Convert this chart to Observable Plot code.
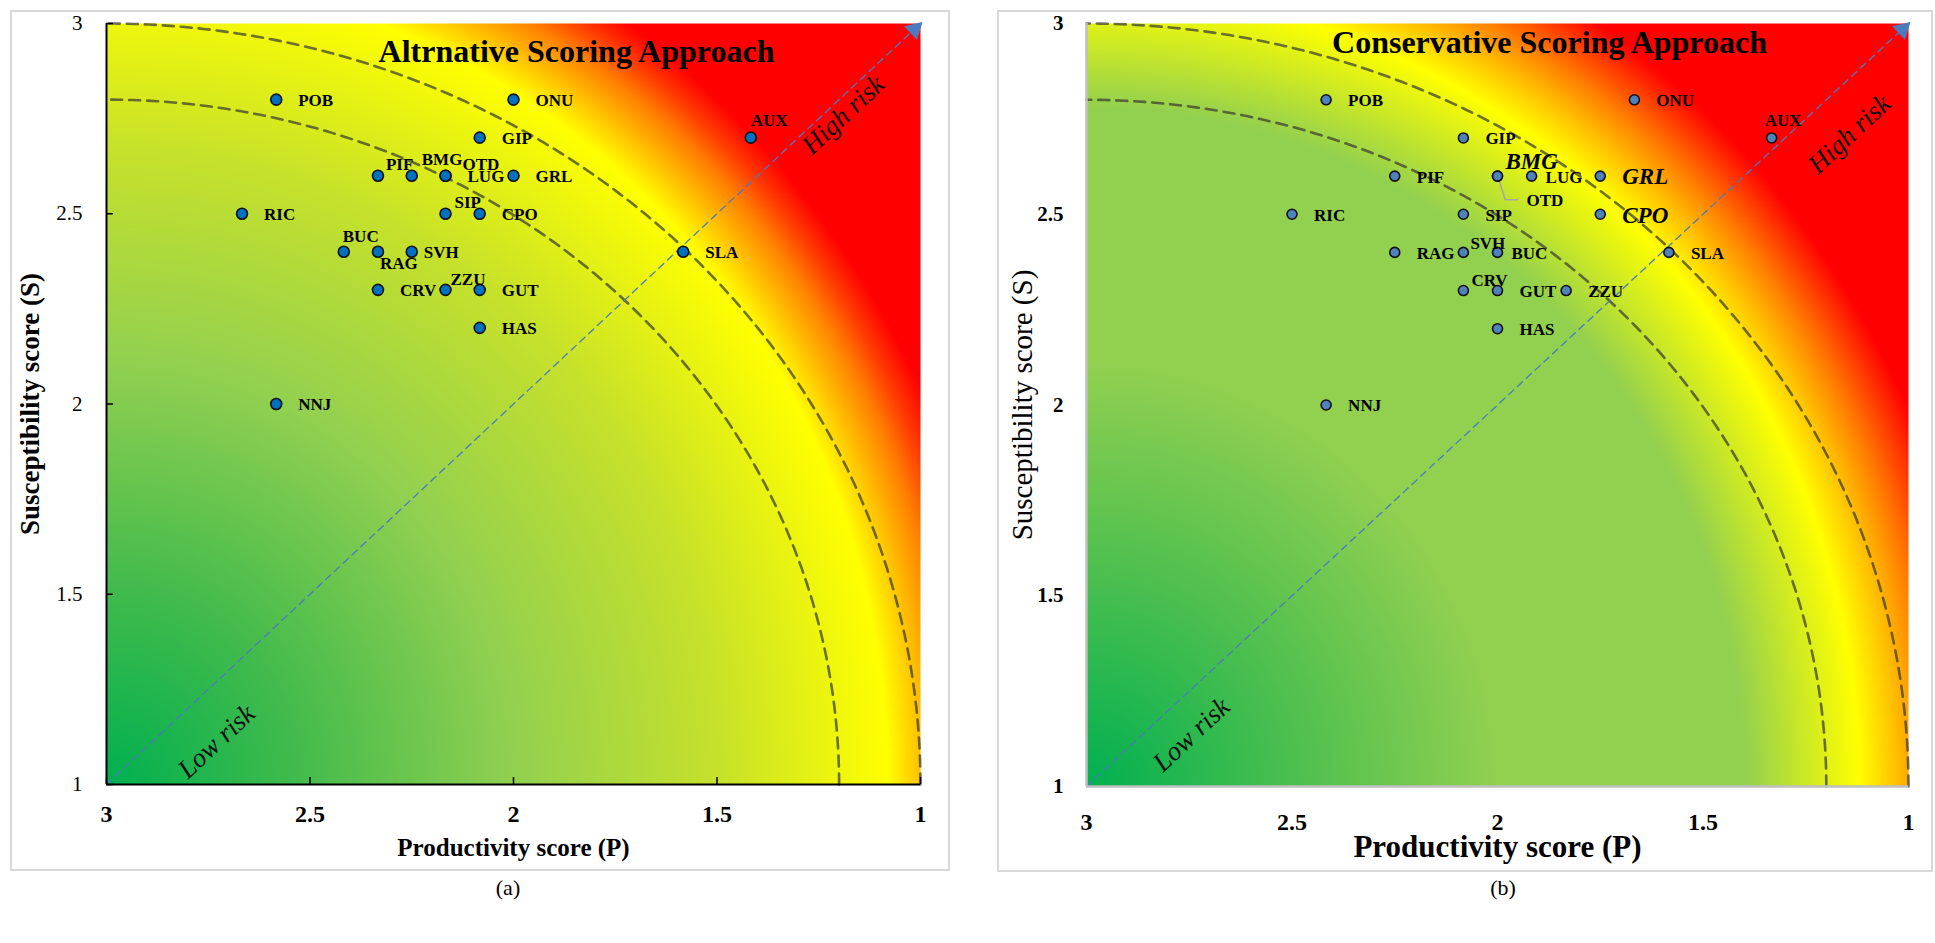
<!DOCTYPE html>
<html>
<head>
<meta charset="utf-8">
<script src="https://cdn.jsdelivr.net/npm/d3@7"></script>
<script src="https://cdn.jsdelivr.net/npm/@observablehq/plot@0.6"></script>
<style>
  body { margin: 0; background: #fff; width: 1935px; height: 943px; position: relative; overflow: hidden;
         font-family: "Liberation Serif", "Times New Roman", serif; }
  .box { position: absolute; border: 2px solid #d9d9d9; box-sizing: border-box; }
  .panel { position: absolute; top: 0; width: 960px; height: 880px; }
  .cap { position: absolute; font-size: 22px; transform: translateX(-50%); color: #000; }
</style>
</head>
<body>
<div class="box" style="left:10px;top:10px;width:940px;height:861px"></div>
<div class="box" style="left:997px;top:10px;width:936px;height:862px"></div>
<div id="panelA" class="panel" style="left:0px"></div>
<div id="panelB" class="panel" style="left:975px"></div>
<div class="cap" style="left:508px;top:875px">(a)</div>
<div class="cap" style="left:1503px;top:875px">(b)</div>
<script>
// ---------------- data ----------------
const codes = ["POB","ONU","GIP","AUX","PIF","BMG","OTD","LUG","GRL","RIC","SIP","CPO","BUC","RAG","SVH","SLA","CRV","ZZU","GUT","HAS","NNJ"];
// (a) Alternative scoring approach
const altP = [2.583,2.0,2.083,1.417,2.333,2.25,2.167,2.167,2.0,2.667,2.167,2.083,2.417,2.333,2.25,1.583,2.333,2.167,2.083,2.083,2.583];
const altS = [2.8,2.8,2.7,2.7,2.6,2.6,2.6,2.6,2.6,2.5,2.5,2.5,2.4,2.4,2.4,2.4,2.3,2.3,2.3,2.2,2.0];
// (b) Conservative scoring approach
const consP = [2.417,1.667,2.083,1.333,2.25,2.0,2.0,1.917,1.75,2.5,2.083,1.75,2.0,2.25,2.083,1.583,2.083,1.833,2.0,2.0,2.417];
const consS = [2.8,2.8,2.7,2.7,2.6,2.6,2.6,2.6,2.6,2.5,2.5,2.5,2.4,2.4,2.4,2.4,2.3,2.3,2.3,2.2,2.0];
const tickValues = [1, 1.5, 2, 2.5, 3];
const vulnerabilityThresholds = [1.8, 2.0];
const riskLine = [{p: 3, s: 1}, {p: 1, s: 3}];
const otdLeader = [{p: 2.0, s: 2.6}, {p: 1.981, s: 2.538}, {p: 1.951, s: 2.538}];
const titleA = "Altrnative Scoring Approach";
const titleB = "Conservative Scoring Approach";
const xTitle = "Productivity score (P)";
const yTitle = "Susceptibility score (S)";

// ---------------- layout / style config ----------------
const offsetsA = {PIF:[8,-11], BMG:[10,-16], OTD:[17,-11], SIP:[9,-11], BUC:[-1,-15], RAG:[2,12], SVH:[12,1], ZZU:[5,-10], AUX:[0,-17]};
const offsetsB = {BMG:[8,-14], OTD:[29,24], LUG:[14,1], SVH:[7,-9], BUC:[14,1], CRV:[8,-10], AUX:[-7,-17]};
const italicB = new Set(["BMG","GRL","CPO"]);

const FONT = "'Liberation Serif','Times New Roman',serif";

function makePanel(o) {
  const W = 960, H = 880;
  const fw = W - o.ml - o.mr, fh = H - o.mt - o.mb;
  const pts = codes.map((c, i) => ({code: c, p: o.P[i], s: o.S[i]}));
  const arcs = vulnerabilityThresholds.flatMap(r =>
    d3.range(0, 90.5, 0.5).map(a => ({r, p: 3 - r * Math.cos(a * Math.PI / 180), s: 1 + r * Math.sin(a * Math.PI / 180)})));

  const labelMarks = pts.map(d => {
    const off = o.offsets[d.code] || [22, 1];
    const it = o.italic && o.italic.has(d.code);
    return Plot.text([d], {x: "p", y: "s", text: "code", textAnchor: "start", dx: off[0], dy: off[1],
      fontSize: it ? 23 : 17, fontWeight: "bold", fontStyle: it ? "italic" : "normal", fill: "#000"});
  });

  const marks = [
    Plot.raster({x1: 3, x2: 1, y1: 1, y2: 3, pixelSize: 1,
      fill: (x, y) => Math.hypot(3 - x, o.k * (y - 1))}),
    Plot.line(arcs, {x: "p", y: "s", z: "r", stroke: "#3a3a30", strokeOpacity: 0.72, strokeWidth: 2.6, strokeDasharray: "11,7"}),
    Plot.line(riskLine, {x: "p", y: "s", stroke: "#4a7ac0", strokeWidth: 1.3, strokeDasharray: "7,5"}),
    Plot.dot(riskLine.slice(1), {x: "p", y: "s", symbol: "triangle", r: 7, rotate: 47, dx: -6, dy: 6, fill: "#4a7ac0", stroke: "none"}),
    Plot.text([o.high], {x: "p", y: "s", text: "t", rotate: -43, fontSize: 27, fontStyle: "italic", fill: "#111"}),
    Plot.text([o.low], {x: "p", y: "s", text: "t", rotate: -43, fontSize: 27, fontStyle: "italic", fill: "#111"}),
  ];
  if (o.leader) marks.push(Plot.line(o.leader, {x: "p", y: "s", stroke: "#a6a6a6", strokeWidth: 1.6}));
  marks.push(Plot.dot(pts, {x: "p", y: "s", r: o.dotR, fill: o.dotFill, stroke: "#111", strokeWidth: 1.6}));
  marks.push(...labelMarks);
  // axis lines
  marks.push(Plot.ruleX([3], {stroke: o.axisColor, strokeWidth: o.axisWidth}));
  marks.push(Plot.ruleY([1], {stroke: o.axisColor, strokeWidth: o.axisWidth}));
  if (o.innerTicks) {
    marks.push(Plot.tickY(tickValues, {y: d => d, insetRight: fw - 7, stroke: "#000", strokeWidth: 1.5}));
    marks.push(Plot.tickX(tickValues, {x: d => d, insetTop: fh - 7, stroke: "#000", strokeWidth: 1.5}));
  }
  marks.push(Plot.axisX(tickValues, {tickSize: 0, tickPadding: o.xPad, fontSize: o.xFs, fontWeight: "bold", label: null, tickFormat: d => String(d)}));
  marks.push(Plot.axisY(tickValues, {tickSize: 0, tickPadding: o.yPad, fontSize: o.yFs, fontWeight: o.yW, label: null, tickFormat: d => String(d)}));
  // titles
  marks.push(Plot.text([o.title], {frameAnchor: "top", textAnchor: "middle", lineAnchor: "middle", dx: o.titleDx, dy: o.titleDy, fontSize: o.titleFs, fontWeight: "bold", fill: "#000"}));
  marks.push(Plot.text([xTitle], {frameAnchor: "bottom", textAnchor: "middle", lineAnchor: "middle", dy: o.xtDy, fontSize: o.xtFs, fontWeight: "bold", fill: "#000"}));
  marks.push(Plot.text([yTitle], {frameAnchor: "left", textAnchor: "middle", lineAnchor: "middle", rotate: -90, dx: o.ytDx, fontSize: o.ytFs, fontWeight: o.ytW, fill: "#000"}));

  return Plot.plot({
    width: W, height: H,
    marginLeft: o.ml, marginRight: o.mr, marginTop: o.mt, marginBottom: o.mb,
    x: {domain: [3, 1]},
    y: {domain: [1, 3]},
    color: {type: "linear", domain: o.stops, range: o.colors, interpolate: "rgb", clamp: true},
    style: {fontFamily: FONT, background: "transparent", overflow: "visible", color: "#000"},
    marks
  });
}

const panelA = makePanel({
  P: altP, S: altS, ml: 106, mr: 40, mt: 23, mb: 96, k: 0.9,
  stops: [0, 0.45, 1.0, 1.5, 1.92, 2.0, 2.08, 2.14, 2.21],
  colors: ["#00b050", "#3fba4c", "#92d050", "#c6e12b", "#ffff00", "#ffc000", "#ff8000", "#ff4000", "#ff0000"],
  offsets: offsetsA, italic: null, leader: null,
  dotR: 5.5, dotFill: "#0070c0", axisColor: "#000", axisWidth: 2, innerTicks: true,
  xPad: 20, xFs: 24, yPad: 24, yFs: 21, yW: "normal",
  title: titleA, titleFs: 32, titleDx: 63, titleDy: 28,
  xtDy: 63, xtFs: 25, ytDx: -76, ytFs: 27, ytW: "bold",
  high: {p: 1.19, s: 2.76, t: "High risk"}, low: {p: 2.73, s: 1.113, t: "Low risk"}
});
document.getElementById("panelA").append(panelA);

const panelB = makePanel({
  P: consP, S: consS, ml: 111, mr: 27, mt: 23, mb: 94, k: 0.9,
  stops: [0, 0.5, 1.0, 1.6, 1.88, 1.97, 2.05, 2.12, 2.19],
  colors: ["#00b050", "#4cbf4f", "#92d050", "#92d050", "#ffff00", "#ffc000", "#ff8000", "#ff4000", "#ff0000"],
  offsets: offsetsB, italic: italicB, leader: otdLeader,
  dotR: 5, dotFill: "#4f81bd", axisColor: "#bfbfbf", axisWidth: 2.5, innerTicks: false,
  xPad: 26, xFs: 24, yPad: 23, yFs: 21, yW: "bold",
  title: titleB, titleFs: 32, titleDx: 52, titleDy: 19,
  xtDy: 61, xtFs: 31, ytDx: -64, ytFs: 29, ytW: "normal",
  high: {p: 1.144, s: 2.71, t: "High risk"}, low: {p: 2.745, s: 1.136, t: "Low risk"}
});
document.getElementById("panelB").append(panelB);
</script>
</body>
</html>
